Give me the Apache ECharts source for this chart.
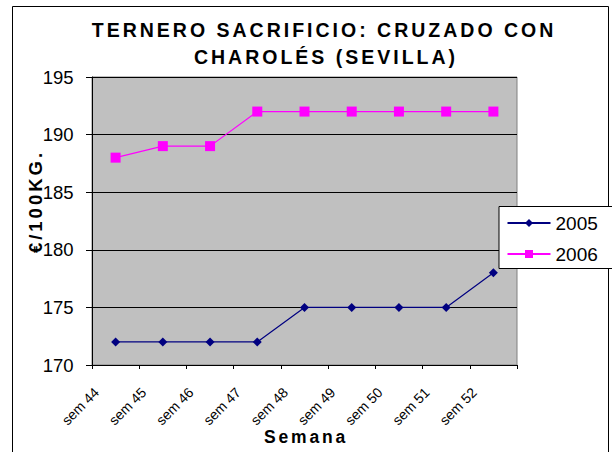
<!DOCTYPE html>
<html><head><meta charset="utf-8">
<script src="https://cdn.jsdelivr.net/npm/echarts@6/dist/echarts.min.js"></script>
<style>html,body{margin:0;padding:0;background:#fff}#c{width:612px;height:452px}</style>
</head><body><div id="c"></div>
<script>
const categories = ['sem 44','sem 45','sem 46','sem 47','sem 48','sem 49','sem 50','sem 51','sem 52'];
const values2005 = [172,172,172,172,175,175,175,175,178];
const values2006 = [188,189,189,192,192,192,192,192,192];
const titleLines = ['TERNERO SACRIFICIO: CRUZADO CON','CHAROLÉS (SEVILLA)'];
const yName = '€/100KG.';
const xName = 'Semana';

const chart = echarts.init(document.getElementById('c'), null, {renderer:'svg'});
const F = '"Liberation Sans", Arial, sans-serif';
chart.setOption({
  animation:false,
  backgroundColor:'#fff',
  graphic:[
    {type:'rect', shape:{x:12.5,y:6.5,width:596,height:460}, style:{fill:'none',stroke:'#000',lineWidth:1}, z:-1},
    {type:'text', x:324, y:29.5, style:{text:titleLines[0], font:'bold 19.5px '+F, fill:'#000', align:'center', verticalAlign:'middle'}},
    {type:'text', x:326, y:56.5, style:{text:titleLines[1], font:'bold 19.5px '+F, fill:'#000', align:'center', verticalAlign:'middle'}},
    {type:'text', x:35, y:201.5, rotation:Math.PI/2, style:{text:yName, font:'bold 18.5px '+F, fill:'#000', align:'center', verticalAlign:'middle'}},
    {type:'text', x:306, y:436.5, style:{text:xName, font:'bold 17.5px '+F, fill:'#000', align:'center', verticalAlign:'middle'}}
  ],
  grid:{left:92, right:95, top:77, bottom:87, show:true, backgroundColor:'#C0C0C0', borderColor:'#808080', borderWidth:1},
  legend:{
    orient:'vertical', left:499, top:206.5,
    backgroundColor:'#fff', borderColor:'#000', borderWidth:1,
    padding:[7,18,5,7.5], itemGap:12, itemWidth:43, itemHeight:10,
    textStyle:{fontFamily:F, fontSize:19, color:'#000'},
    data:['2005','2006']
  },
  xAxis:{
    type:'category', data:categories, boundaryGap:true,
    axisLine:{lineStyle:{color:'#000'}},
    axisTick:{show:true, alignWithLabel:false, length:4, lineStyle:{color:'#000'}},
    axisLabel:{rotate:45, fontFamily:F, fontSize:14, color:'#000', margin:6, padding:[0,27,0,0], interval:0},
    splitLine:{show:false}
  },
  yAxis:{
    type:'value', min:170, max:195, interval:5,
    axisLine:{show:true, lineStyle:{color:'#000'}},
    axisTick:{show:true, length:6, lineStyle:{color:'#000'}},
    axisLabel:{fontFamily:F, fontSize:18.5, color:'#000', margin:18.5},
    splitLine:{show:true, lineStyle:{color:'#000', width:1}}
  },
  series:[
    {name:'2005', type:'line', data:values2005, symbol:'diamond', symbolSize:9,
      lineStyle:{color:'#000080', width:1.2}, itemStyle:{color:'#000080'}},
    {name:'2006', type:'line', data:values2006, symbol:'rect', symbolSize:10,
      lineStyle:{color:'#FF00FF', width:1.2}, itemStyle:{color:'#FF00FF'}}
  ]
});

const spacing = {};
spacing[titleLines[0]] = '3px';
spacing[titleLines[1]] = '3px';
spacing[yName] = '3px';
spacing[xName] = '2.8px';
function applySpacing(){
  document.querySelectorAll('#c text').forEach(t => {
    const s = spacing[t.textContent];
    if (s) t.setAttribute('letter-spacing', s);
  });
}
chart.on('finished', applySpacing);
applySpacing();
setTimeout(applySpacing, 0);
</script></body></html>
